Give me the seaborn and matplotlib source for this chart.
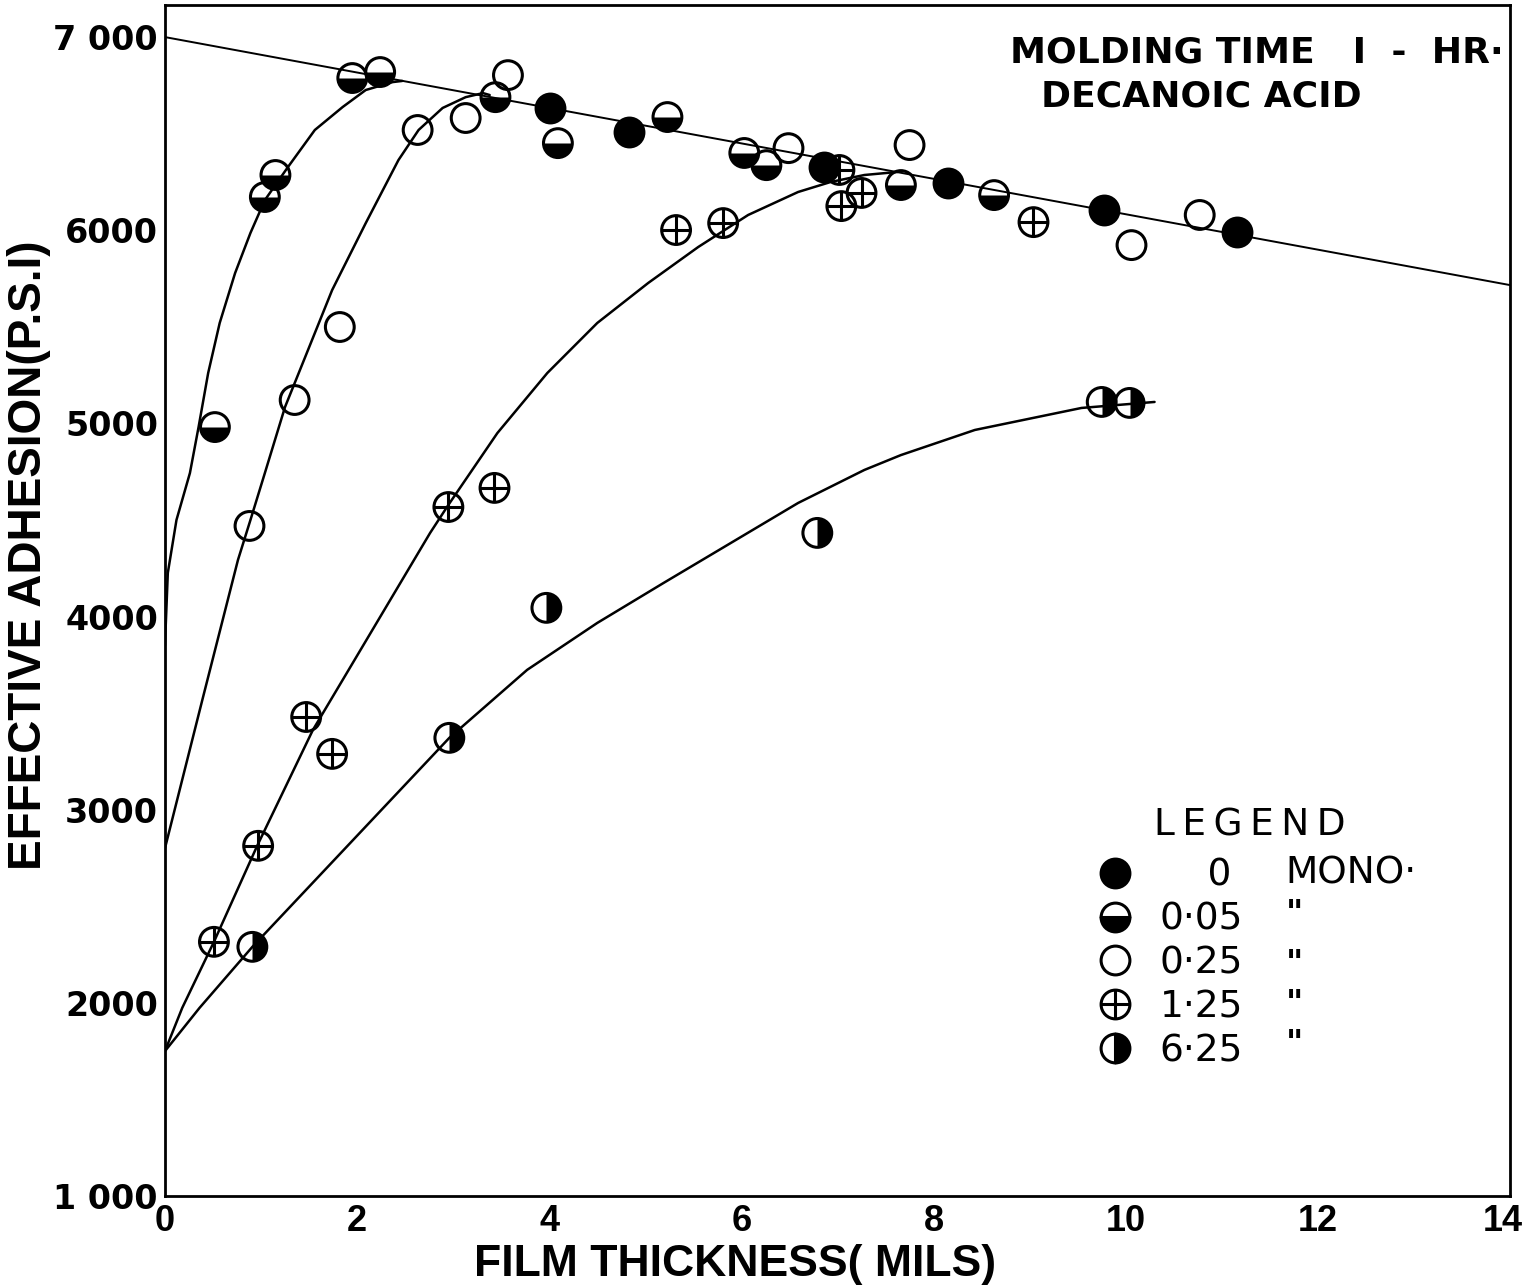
import matplotlib
matplotlib.use("Agg")
import matplotlib.pyplot as plt
import matplotlib.transforms as mtransforms
from matplotlib.markers import MarkerStyle
from matplotlib.lines import Line2D
import seaborn as sns

# points (film thickness in mils, adhesion in psi)
mono0_x = [4.01, 4.83, 6.86, 8.15, 9.77, 11.16]
mono0_y = [6633, 6508, 6327, 6244, 6105, 5991]

mono005_x = [0.52, 1.04, 1.15, 1.95, 2.24, 3.44, 4.09, 5.23, 6.03, 6.26, 7.66, 8.63]
mono005_y = [4981, 6172, 6286, 6788, 6819, 6689, 6451, 6586, 6400, 6337, 6234, 6182]

mono025_x = [0.88, 1.35, 1.82, 2.63, 3.13, 3.57, 6.49, 7.75, 10.06, 10.77]
mono025_y = [4469, 5121, 5499, 6519, 6581, 6803, 6425, 6441, 5923, 6079]

mono125_x = [0.51, 0.97, 1.47, 1.74, 2.95, 3.43, 5.32, 5.81, 7.02, 7.04, 7.25, 9.04]
mono125_y = [2316, 2813, 3480, 3289, 4567, 4666, 6001, 6037, 6312, 6125, 6193, 6042]

mono625_x = [0.91, 2.96, 3.97, 6.79, 9.75, 10.04]
mono625_y = [2290, 3372, 4045, 4433, 5111, 5106]

# hand drawn curves, read as points along each curve
line_x = [0, 14]
line_y = [7000, 5716]

c005_x = [0, 0.03, 0.12, 0.26, 0.35, 0.45, 0.57, 0.73, 0.89, 1.04, 1.28, 1.56, 1.85, 2.09, 2.37, 2.47]
c005_y = [3850, 4226, 4500, 4743, 4981, 5261, 5520, 5778, 5986, 6156, 6327, 6519, 6638, 6726, 6767, 6773]

c025_x = [0, 0.39, 0.76, 0.89, 1.04, 1.25, 1.46, 1.74, 2.09, 2.43, 2.64, 2.89, 3.13, 3.31, 3.38]
c025_y = [2800, 3570, 4293, 4500, 4743, 5085, 5344, 5690, 6037, 6363, 6519, 6633, 6689, 6710, 6700]

c125_x = [0, 0.18, 0.51, 0.96, 1.54, 1.85, 2.76, 2.95, 3.46, 3.98, 4.50, 5.03, 5.55, 6.07, 6.59,
          6.93, 7.28, 7.63]
c125_y = [1750, 1974, 2316, 2813, 3413, 3672, 4433, 4578, 4950, 5261, 5520, 5727, 5913, 6079, 6198,
          6250, 6286, 6302]

c625_x = [0, 0.36, 0.91, 2.96, 3.77, 4.50, 5.19, 5.89, 6.59, 7.28, 7.66, 8.43, 9.54, 10.3]
c625_y = [1750, 1974, 2290, 3372, 3724, 3967, 4174, 4381, 4588, 4759, 4836, 4966, 5080, 5111]

legend_labels = ["    0", "0·05", "0·25", "1·25", "6·25"]
ytick_vals = [1000, 2000, 3000, 4000, 5000, 6000, 7000]
ytick_text = ["1 000", "2000", "3000", "4000", "5000", "6000", "7 000"]
xtick_vals = [0, 2, 4, 6, 8, 10, 12, 14]

sns.set_style("white")
plt.rcParams['font.family'] = ['DejaVu Sans']
plt.rcParams['text.color'] = 'black'
plt.rcParams['axes.labelcolor'] = 'black'
plt.rcParams['xtick.color'] = 'black'
plt.rcParams['ytick.color'] = 'black'
narrow = ['Liberation Sans', 'DejaVu Sans']

fig, ax = plt.subplots(figsize=(15.23, 12.87), dpi=100)
fig.subplots_adjust(left=0.1083, right=0.9915, bottom=0.0707, top=0.9961)

# curves
sns.lineplot(x=line_x, y=line_y, ax=ax, color='black', lw=1.4, sort=False, estimator=None)
for cx, cy in [(c005_x, c005_y), (c025_x, c025_y), (c125_x, c125_y), (c625_x, c625_y)]:
    sns.lineplot(x=cx, y=cy, ax=ax, color='black', lw=1.8, sort=False, estimator=None)

S = 430
EW = 2.2


def ring(x, y):
    ax.scatter(x, y, s=S, marker='o', facecolors='none', edgecolors='black',
               linewidths=EW, zorder=4)


# 0 mono: solid
sns.scatterplot(x=mono0_x, y=mono0_y, ax=ax, s=S, marker='o', color='black',
                edgecolor='black', linewidth=EW, zorder=4)
# 0.05: bottom half filled
sns.scatterplot(x=mono005_x, y=mono005_y, ax=ax, s=S, marker=MarkerStyle('o', fillstyle='bottom'),
                color='black', edgecolor='black', linewidth=0, zorder=3)
ring(mono005_x, mono005_y)
# 0.25: open
ring(mono025_x, mono025_y)
# 1.25: circle with cross
sns.scatterplot(x=mono125_x, y=mono125_y, ax=ax, s=S, marker='+', color='black',
                linewidth=EW, zorder=4)
ring(mono125_x, mono125_y)
# 6.25: right half filled
sns.scatterplot(x=mono625_x, y=mono625_y, ax=ax, s=S, marker=MarkerStyle('o', fillstyle='right'),
                color='black', edgecolor='black', linewidth=0, zorder=3)
ring(mono625_x, mono625_y)

ax.set_xlim(0, 14)
ax.set_ylim(1000, 7166)

ax.set_xticks(xtick_vals)
ax.set_xticks(range(1, 14, 2), minor=True)
ax.set_xticklabels([str(v) for v in xtick_vals], family=narrow, fontsize=26, fontweight='bold')
ax.set_yticks(ytick_vals)
ax.set_yticks(range(1500, 7000, 1000), minor=True)
ax.set_yticklabels(ytick_text, fontsize=24, fontweight='bold')

ax.tick_params(axis='x', which='major', direction='in', length=32, width=1.3, pad=6)
ax.tick_params(axis='x', which='minor', direction='in', length=18, width=1.3)
ax.tick_params(axis='y', which='major', direction='in', length=25, width=1.3, pad=5)
ax.tick_params(axis='y', which='minor', direction='in', length=13, width=1.3)

# keep the last x label inside the figure
last = ax.xaxis.get_major_ticks()[-1].label1
last.set_transform(last.get_transform() +
                   mtransforms.ScaledTranslation(-7 / 100, 0, fig.dpi_scale_trans))

for sp in ax.spines.values():
    sp.set_linewidth(2.0)
    sp.set_color('black')

ax.set_xlabel("FILM THICKNESS( MILS)", family=narrow, fontsize=32, fontweight='bold')
ax.xaxis.set_label_coords(0.424, -0.040)
ax.set_ylabel("EFFECTIVE ADHESION(P.S.I)", family=narrow, fontsize=33, fontweight='bold')
ax.yaxis.set_label_coords(-0.085, 0.538)

ax.text(0.628, 0.960, "MOLDING TIME   I  -  HR·", transform=ax.transAxes, fontsize=26,
        fontweight='bold', ha='left', va='center')
ax.text(0.651, 0.923, "DECANOIC ACID", transform=ax.transAxes, fontsize=26,
        fontweight='bold', ha='left', va='center')

# legend
ms = S ** 0.5
h0 = Line2D([], [], ls='none', marker='o', ms=ms, mfc='black', mec='black', mew=EW)
h1 = Line2D([], [], ls='none', marker='o', ms=ms, fillstyle='bottom', mfc='black',
            markerfacecoloralt='white', mec='black', mew=EW)
h2 = Line2D([], [], ls='none', marker='o', ms=ms, mfc='none', mec='black', mew=EW)
h3a = Line2D([], [], ls='none', marker='o', ms=ms, mfc='none', mec='black', mew=EW)
h3b = Line2D([], [], ls='none', marker='+', ms=ms, mec='black', mew=EW)
h4 = Line2D([], [], ls='none', marker='o', ms=ms, fillstyle='right', mfc='black',
            markerfacecoloralt='white', mec='black', mew=EW)
ax.legend([h0, h1, h2, (h3a, h3b), h4], legend_labels, loc='upper left',
          bbox_to_anchor=(0.692, 0.284), frameon=False, fontsize=27, handlelength=1.0,
          handletextpad=0.7, labelspacing=0.21, borderpad=0, borderaxespad=0)

ax.text(0.735, 0.311, "L\u2009E\u2009G\u2009E\u2009N\u2009D", transform=ax.transAxes, fontsize=27,
        ha='left', va='center')
ax.text(0.833, 0.271, "MONO·", transform=ax.transAxes, fontsize=27, ha='left', va='center')
for fy in [0.236, 0.194, 0.161, 0.127]:
    ax.text(0.833, fy, '"', transform=ax.transAxes, fontsize=24, fontweight='bold',
            ha='left', va='center')

plt.savefig("out.png", dpi=100)
